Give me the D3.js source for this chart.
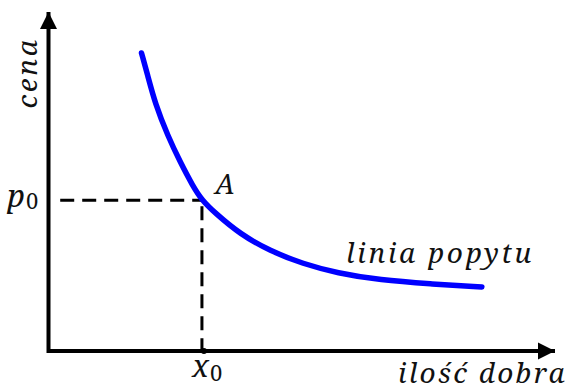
<!DOCTYPE html>
<html>
<head>
<meta charset="utf-8">
<script src="https://cdn.jsdelivr.net/npm/d3@7"></script>
<style>
  html, body { margin: 0; padding: 0; background: #fff; }
</style>
</head>
<body>
<svg id="chart" width="571" height="388"></svg>
<script>
// demand curve (quantity / price, 0..100 units)
var demandQ = [18.6, 19.7, 21.3, 23.8, 26.2, 28.7, 30.5, 33.1, 38.0, 43.9, 50.4, 57.1, 65.6, 75.4, 85.6];
var demandP = [87.9, 82.0, 72.9, 63.4, 55.8, 48.7, 44.5, 40.7, 34.5, 29.5, 25.7, 23.0, 20.9, 19.8, 18.9];
var pointQ = [30.5];   // x0
var pointP = [44.5];   // p0
var axisLabels = ["cena", "ilość dobra"];
var curveLabel = "linia popytu";
var pointLabel = "A";

var FONT = "'Noto Serif', 'DejaVu Serif', serif";

var svg = d3.select("#chart");

var xScale = d3.scaleLinear().domain([0, 100]).range([47, 555]);
var yScale = d3.scaleLinear().domain([0, 100]).range([351, 12]);

var data = demandQ.map(function(q, i){ return {q: q, p: demandP[i]}; });

// arrow marker
var defs = svg.append("defs");
defs.append("marker")
    .attr("id", "arrow")
    .attr("viewBox", "0 0 10 10")
    .attr("refX", 10).attr("refY", 5)
    .attr("markerUnits", "userSpaceOnUse")
    .attr("markerWidth", 17).attr("markerHeight", 18)
    .attr("orient", "auto")
  .append("path")
    .attr("d", "M0,0 L10,5 L0,10 Z")
    .attr("fill", "#000");

// dashed guides
var q0 = pointQ[0], p0 = pointP[0];
svg.append("line")
    .attr("x1", xScale(2.6)).attr("x2", xScale(q0))
    .attr("y1", yScale(p0)).attr("y2", yScale(p0))
    .attr("stroke", "#000").attr("stroke-width", 3)
    .attr("stroke-dasharray", "14,8");
svg.append("line")
    .attr("x1", xScale(q0)).attr("x2", xScale(q0))
    .attr("y1", yScale(p0) + 6).attr("y2", yScale(0))
    .attr("stroke", "#000").attr("stroke-width", 3)
    .attr("stroke-dasharray", "14,8");

// axes
svg.append("line")
    .attr("x1", xScale(0) + 1.5).attr("y1", yScale(0) + 2)
    .attr("x2", xScale(0) + 1.5).attr("y2", yScale(100))
    .attr("stroke", "#000").attr("stroke-width", 4)
    .attr("marker-end", "url(#arrow)");
svg.append("line")
    .attr("x1", xScale(0)).attr("y1", yScale(0))
    .attr("x2", xScale(100)).attr("y2", yScale(0))
    .attr("stroke", "#000").attr("stroke-width", 4)
    .attr("marker-end", "url(#arrow)");

svg.append("circle")
    .attr("cx", xScale(q0) + 2).attr("cy", yScale(0))
    .attr("r", 3).attr("fill", "#000");

// demand curve
var line = d3.line()
    .curve(d3.curveBasis)
    .x(function(d){ return xScale(d.q); })
    .y(function(d){ return yScale(d.p); });

svg.append("path")
    .datum(data)
    .attr("d", line)
    .attr("fill", "none")
    .attr("stroke", "#0000ff")
    .attr("stroke-width", 5.5)
    .attr("stroke-linecap", "round");

// labels
function label(x, y, size, ls){
    return svg.append("text")
        .attr("x", x).attr("y", y)
        .attr("font-family", FONT)
        .attr("font-style", "italic")
        .attr("font-size", size)
        .attr("letter-spacing", ls)
        .attr("fill", "#111");
}

label(0, 0, 28, 2.7)
    .attr("x", null).attr("y", null)
    .attr("transform", "translate(37,73) rotate(-90)")
    .attr("text-anchor", "middle")
    .text(axisLabels[0]);

label(567, 383, 28, 2.3)
    .attr("text-anchor", "end")
    .text(axisLabels[1]);

label(346, 263, 28, 2.7).text(curveLabel);

label(215, 194, 28, 0).text(pointLabel);

var pt = label(7, 207, 31, 0);
pt.append("tspan").text("p");
pt.append("tspan").attr("dx", 1).attr("dy", 2).attr("font-size", 22).attr("font-style", "normal").text("0");

var xt = label(192, 377, 31, 0);
xt.append("tspan").text("x");
xt.append("tspan").attr("dx", 1).attr("dy", 4).attr("font-size", 22).attr("font-style", "normal").text("0");
</script>
</body>
</html>
